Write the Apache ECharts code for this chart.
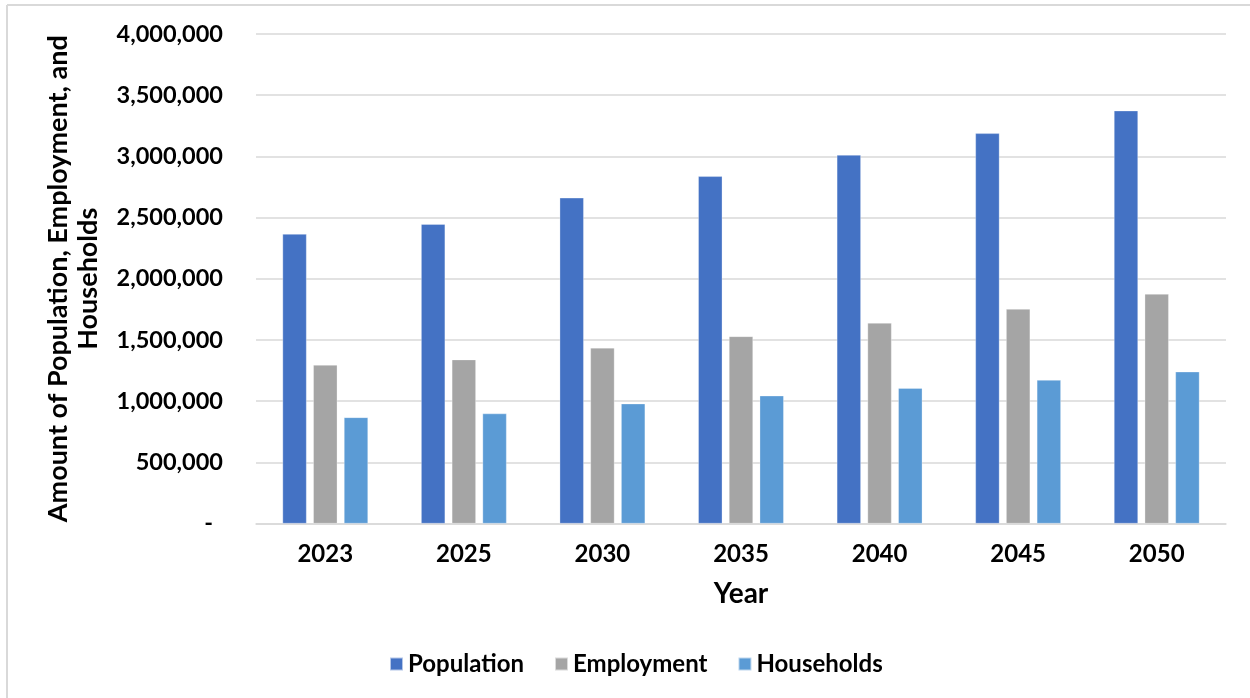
<!DOCTYPE html>
<html>
<head>
<meta charset="utf-8">
<script src="https://cdn.jsdelivr.net/npm/echarts@6/dist/echarts.min.js"></script>
<style>
    html, body { margin: 0; padding: 0; background: #fff; }
    #chart { width: 1250px; height: 698px; }
</style>
</head>
<body>
<div id="chart"></div>
<script>
const years = ["2023", "2025", "2030", "2035", "2040", "2045", "2050"];
const population = [2365000, 2446000, 2661000, 2837000, 3011000, 3188000, 3373000];
const employment = [1295000, 1339000, 1435000, 1529000, 1638000, 1752000, 1875000];
const households = [867000, 898000, 979000, 1044000, 1106000, 1172000, 1240000];
const legendNames = ["Population", "Employment", "Households"];

const font = "Lato";
const weight = "bold";
const gridColor = "#D9D9D9";

const fmt = value => {
    if (value === 0) {
        return "{dash|-}";
    }
    return value.toLocaleString("en-US");
};

const barSeries = (name, data, color) => ({
    name,
    type: "bar",
    data,
    barWidth: 24,
    barGap: "28%",
    itemStyle: {
        color,
        borderColor: "rgba(255,255,255,0.6)",
        borderWidth: 0.5,
    },
});

const myChart = echarts.init(document.getElementById("chart"));
myChart.setOption({
    animation: false,
    textStyle: { fontFamily: font },
    grid: {
        left: 256,
        right: 24,
        top: 34,
        bottom: 174.5,
    },
    legend: {
        data: legendNames,
        left: 389,
        top: 652,
        padding: 0,
        itemWidth: 13,
        itemHeight: 13,
        itemGap: 30,
        icon: "rect",
        textStyle: {
            fontFamily: font,
            fontWeight: weight,
            fontSize: 24,
            color: "#000",
        },
    },
    xAxis: {
        type: "category",
        data: years,
        name: "Year",
        nameLocation: "middle",
        nameGap: 56,
        nameTextStyle: {
            fontFamily: font,
            fontWeight: weight,
            fontSize: 28,
            color: "#000",
        },
        axisTick: { show: false },
        axisLine: {
            lineStyle: { color: gridColor, width: 1.5 },
        },
        axisLabel: {
            margin: 19,
            fontFamily: font,
            fontWeight: weight,
            fontSize: 24,
            color: "#000",
        },
    },
    yAxis: {
        type: "value",
        min: 0,
        max: 4000000,
        interval: 500000,
        name: "Amount of Population, Employment, and\nHouseholds",
        nameLocation: "middle",
        nameGap: 153,
        nameRotate: 90,
        nameTextStyle: {
            fontFamily: font,
            fontWeight: weight,
            fontSize: 27,
            lineHeight: 30,
            color: "#000",
        },
        axisLine: { show: false },
        axisTick: { show: false },
        splitLine: {
            lineStyle: { color: gridColor, width: 1.5 },
        },
        axisLabel: {
            margin: 33,
            fontFamily: font,
            fontWeight: weight,
            fontSize: 23.5,
            color: "#000",
            formatter: fmt,
            rich: {
                dash: {
                    fontFamily: font,
                    fontWeight: weight,
                    fontSize: 23.5,
                    color: "#000",
                    padding: [0, 10, 0, 0],
                },
            },
        },
    },
    graphic: [
        {
            type: "line",
            shape: { x1: 7, y1: 5, x2: 1250, y2: 5 },
            style: { stroke: gridColor, lineWidth: 2 },
        },
        {
            type: "line",
            shape: { x1: 7, y1: 5, x2: 7, y2: 698 },
            style: { stroke: gridColor, lineWidth: 2 },
        },
    ],
    series: [
        barSeries(legendNames[0], population, "#4472C4"),
        barSeries(legendNames[1], employment, "#A5A5A5"),
        barSeries(legendNames[2], households, "#5B9BD5"),
    ],
});
</script>
</body>
</html>
